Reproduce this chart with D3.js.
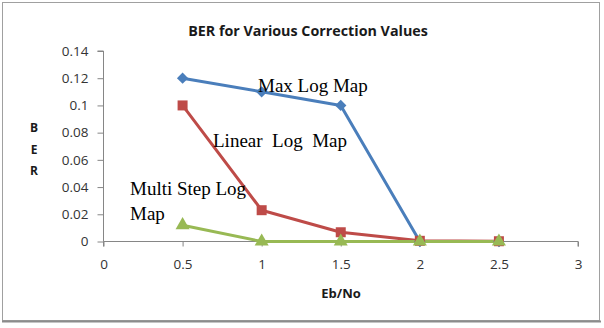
<!DOCTYPE html>
<html>
<head>
<meta charset="utf-8">
<script src="https://cdn.jsdelivr.net/npm/d3@7"></script>
<style>
  html, body { margin: 0; padding: 0; background: #fff; }
  svg { display: block; }
</style>
</head>
<body>
<svg id="chart" width="604" height="328"></svg>
<script>
// Eb/No sample points and BER per decoding method
const ebNo = [0.5, 1, 1.5, 2, 2.5];
const maxLogMap = [0.12, 0.11, 0.10, 0, 0];
const linearLogMap = [0.10, 0.023, 0.0068, 0.0005, 0.0002];
const multiStepLogMap = [0.012, 0, 0, 0, 0];

const xTicks = [0, 0.5, 1, 1.5, 2, 2.5, 3];
const yTicks = [0, 0.02, 0.04, 0.06, 0.08, 0.1, 0.12, 0.14];

const series = [
  { name: "Max Log Map", values: maxLogMap, color: "#4a7ebb", symbol: d3.symbolSquare, size: 64, rotate: 45 },
  { name: "Linear Log Map", values: linearLogMap, color: "#be4b48", symbol: d3.symbolSquare, size: 100, rotate: 0 },
  { name: "Multi Step Log Map", values: multiStepLogMap, color: "#98b954", symbol: d3.symbolTriangle, size: 85, rotate: 0 }
];

const svg = d3.select("#chart");

// chart frame
svg.append("rect")
  .attr("x", 2.5).attr("y", 2.5).attr("width", 597).attr("height", 318)
  .attr("fill", "#fff").attr("stroke", "#a0a0a0").attr("stroke-width", 1);
svg.append("line")
  .attr("x1", 2).attr("x2", 601).attr("y1", 321.5).attr("y2", 321.5)
  .attr("stroke", "#8c8c8c").attr("stroke-width", 2);

const x = d3.scaleLinear().domain([0, 3]).range([103.5, 578]);
const y = d3.scaleLinear().domain([0, 0.14]).range([241.5, 51]);

const axisColor = "#868686";
const uiFont = "'Open Sans', Lato, sans-serif";

// y axis
const yAxis = svg.append("g")
  .attr("transform", `translate(${x(0)},0)`)
  .call(d3.axisLeft(y).tickValues(yTicks).tickSize(6).tickPadding(9)
    .tickFormat(d => String(+d.toFixed(2))));
// x axis
const xAxis = svg.append("g")
  .attr("transform", `translate(0,${y(0)})`)
  .call(d3.axisBottom(x).tickValues(xTicks).tickSize(5).tickPadding(13)
    .tickFormat(d => String(d)));

[yAxis, xAxis].forEach(g => {
  g.select(".domain").attr("stroke", axisColor);
  g.selectAll(".tick line").attr("stroke", axisColor);
  g.selectAll(".tick text")
    .attr("fill", "#333")
    .style("font-family", uiFont)
    .style("font-size", "13.5px");
});
xAxis.select(".domain").attr("d", `M${x(0)},5V0H${x(3)}V5`);
yAxis.select(".domain").attr("d", `M-6,${y(0.14)}H0V${y(0)}`);

// lines and markers
const line = d3.line().x((d, i) => x(ebNo[i])).y(d => y(d));

series.forEach(s => {
  svg.append("path")
    .datum(s.values)
    .attr("d", line)
    .attr("fill", "none")
    .attr("stroke", s.color)
    .attr("stroke-width", 3)
    .attr("stroke-linejoin", "round");
});
series.forEach(s => {
  svg.append("g").selectAll("path")
    .data(s.values)
    .join("path")
    .attr("transform", (d, i) => `translate(${x(ebNo[i])},${y(d)}) rotate(${s.rotate})`)
    .attr("d", d3.symbol(s.symbol, s.size))
    .attr("fill", s.color);
});

// title
svg.append("text")
  .attr("x", 308).attr("y", 36)
  .attr("text-anchor", "middle")
  .style("font-family", uiFont)
  .style("font-weight", "bold")
  .style("font-size", "14.3px")
  .attr("fill", "#1a1a1a")
  .text("BER for Various Correction Values");

// y axis title, stacked letters
svg.append("g").selectAll("text")
  .data(["B", "E", "R"])
  .join("text")
  .attr("x", 34).attr("y", (d, i) => 132 + i * 21.5)
  .attr("text-anchor", "middle")
  .style("font-family", uiFont)
  .style("font-weight", "bold")
  .style("font-size", "12px")
  .attr("fill", "#1a1a1a")
  .text(d => d);

// x axis title
svg.append("text")
  .attr("x", 341).attr("y", 298)
  .attr("text-anchor", "middle")
  .style("font-family", uiFont)
  .style("font-weight", "bold")
  .style("font-size", "13px")
  .attr("fill", "#1a1a1a")
  .text("Eb/No");

// series annotations
const notes = [
  { text: "Max Log Map", x: 258, y: 92 },
  { text: "Linear\u00a0 Log\u00a0 Map", x: 213, y: 147 },
  { text: "Multi Step Log", x: 130, y: 195 },
  { text: "Map", x: 130, y: 220 }
];
svg.append("g").selectAll("text")
  .data(notes)
  .join("text")
  .attr("x", d => d.x).attr("y", d => d.y)
  .style("font-family", "'Liberation Serif', 'DejaVu Serif', serif")
  .style("font-size", "19px")
  .attr("fill", "#000")
  .text(d => d.text);
</script>
</body>
</html>
